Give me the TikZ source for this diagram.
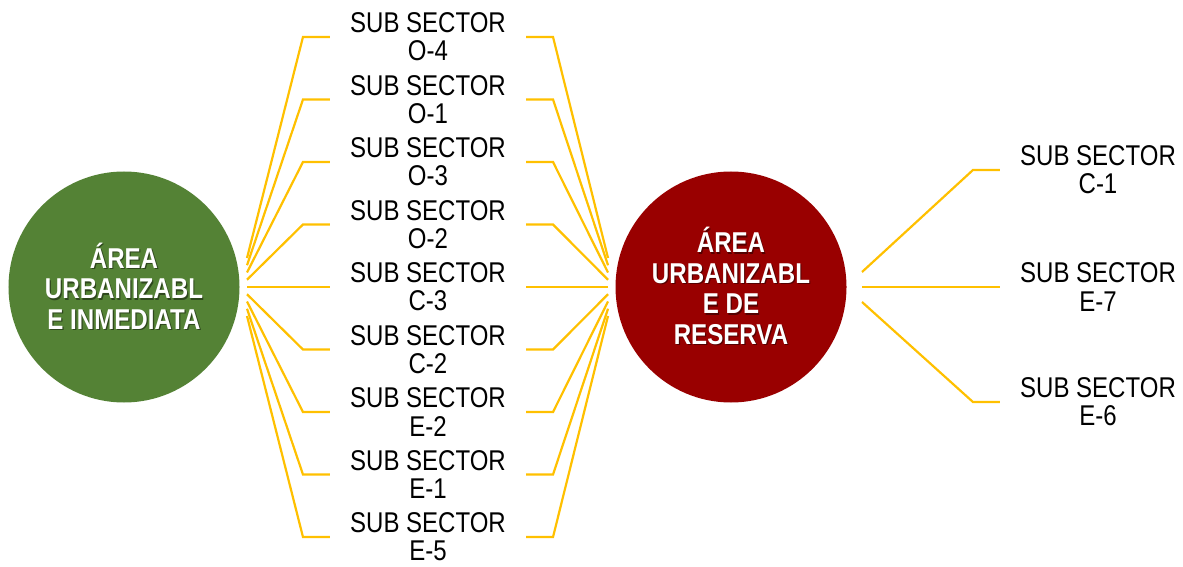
\documentclass[tikz,border=0pt]{standalone}
\usepackage{fontspec}
\setmainfont{Liberation Sans}
\usetikzlibrary{calc}
\definecolor{areagreen}{HTML}{548235}
\definecolor{areared}{HTML}{990000}
\definecolor{linkgold}{HTML}{FFC000}
\tikzset{
  area/.style={circle, minimum size=231bp, inner sep=0pt},
  tallfont/.style={yscale=1.19, transform shape},
  areatext/.style={tallfont, text=white, align=center,
    font=\fontsize{24.2}{25.8}\selectfont\bfseries},
  areashadow/.style={areatext, text=black, opacity=0.45},
  sublabel/.style={tallfont, align=center, inner xsep=20bp, inner ysep=0pt,
    font=\fontsize{24.1}{23.8}\selectfont},
  link/.style={draw=linkgold, line width=2.2bp}
}
\begin{document}
\begin{tikzpicture}[x=1bp,y=-1bp]
\useasboundingbox (0,0) rectangle (1183,567);

% the two areas
\node[area, fill=areagreen] (L) at (124,287) {};
\node[area, fill=areared]   (R) at (731,287) {};
\node[areashadow] (Lsh) at (125.2,287.4) {ÁREA\\URBANIZABL\\E INMEDIATA};
\node[areatext]   (Lt)  at (124,286)     {ÁREA\\URBANIZABL\\E INMEDIATA};
\node[areashadow] (Rsh) at (732.2,287.4) {ÁREA\\URBANIZABL\\E DE\\RESERVA};
\node[areatext]   (Rt)  at (731,286)     {ÁREA\\URBANIZABL\\E DE\\RESERVA};

% sub sectors shared by both areas
\foreach \name [count=\i from 0] in {O-4,O-1,O-3,O-2,C-3,C-2,E-2,E-1,E-5} {
  \pgfmathsetmacro{\yy}{37+62.5*\i}
  \pgfmathsetmacro{\fan}{287+7.25*(\i-4)}
  \node[sublabel] (s\i) at (428,\yy) {SUB SECTOR\\\name};
  \coordinate (ls\i) at ($(L.center)+(123,\fan-287)$);
  \coordinate (rs\i) at ($(R.center)+(-123,\fan-287)$);
  \draw[link] (ls\i) -- ([xshift=-27bp]s\i.west) -- (s\i.west);
  \draw[link] (rs\i) -- ([xshift=27bp]s\i.east) -- (s\i.east);
}

% sub sectors of the reserve area
\foreach \name/\yy/\fan [count=\j] in {C-1/170/272, E-7/287/287, E-6/402/302} {
  \node[sublabel] (t\j) at (1098,\yy) {SUB SECTOR\\\name};
  \coordinate (rt\j) at ($(R.center)+(131,\fan-287)$);
  \draw[link] (rt\j) -- ([xshift=-27bp]t\j.west) -- (t\j.west);
}
\end{tikzpicture}
\end{document}
